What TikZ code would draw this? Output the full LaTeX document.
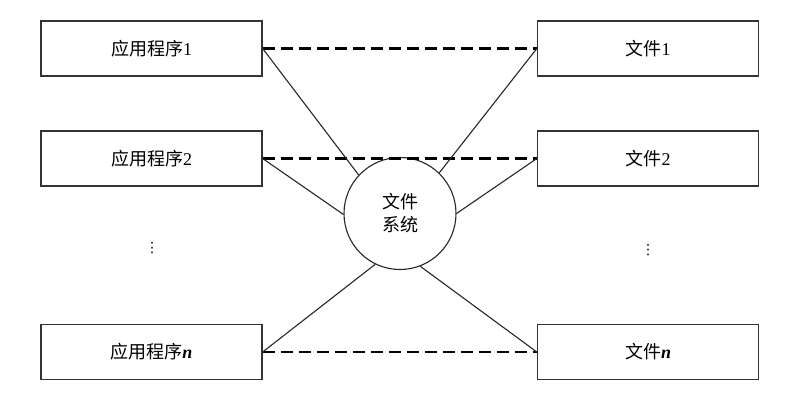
\documentclass[tikz,border=0pt]{standalone}
\usepackage{fontspec}
\setmainfont{Liberation Serif}
\newfontfamily\cjk{Noto Sans CJK SC}
\newfontfamily\dv{DejaVu Sans}
\begin{document}
\begin{tikzpicture}[x=1pt,y=-1pt,
  box/.style={draw=black!80,line width=1.3pt,minimum width=221pt,minimum height=55pt,inner sep=0pt,font=\fontsize{18}{20}\selectfont},
  fs/.style={draw=black!85,line width=1.1pt,circle,minimum size=112pt,inner sep=0pt,align=center,font=\fontsize{18}{23}\selectfont},
  link/.style={draw=black!85,line width=1.1pt},
  dlink/.style={draw=black,line width=2.4pt,dash pattern=on 12pt off 6pt},
  dots/.style={inner sep=0pt,font=\dv\fontsize{14}{14}\selectfont}]
\useasboundingbox (0,0) rectangle (791,408);
\node[box] (a1) at (151.5,48.5) {{\cjk 应用程序}1};
\node[box] (a2) at (151.5,158.5) {{\cjk 应用程序}2};
\node[box] (an) at (151.5,352) {{\cjk 应用程序}\textbf{\textit{n}}};
\node[box] (f1) at (648,48.5) {{\cjk 文件}1};
\node[box] (f2) at (648,158.5) {{\cjk 文件}2};
\node[box] (fn) at (648,352) {{\cjk 文件}\textbf{\textit{n}}};
\node[fs] (s) at (400,213.5) {\cjk 文件\\\cjk 系统};
\node[dots] (d1) at (152,248) {⋮};
\node[dots] (d2) at (648,250) {⋮};
\draw[dlink] (a1.east) -- (f1.west);
\draw[dlink] (a2.east) -- (f2.west);
\draw[dlink] (an.east) -- (fn.west);
\draw[link] (a1.east) -- (s.137.5);
\draw[link] (f1.west) -- (s.46);
\draw[link] (a2.east) -- (s.181.5);
\draw[link] (f2.west) -- (s.0);
\draw[link] (an.east) -- (s.244);
\draw[link] (fn.west) -- (s.291);
\end{tikzpicture}
\end{document}
